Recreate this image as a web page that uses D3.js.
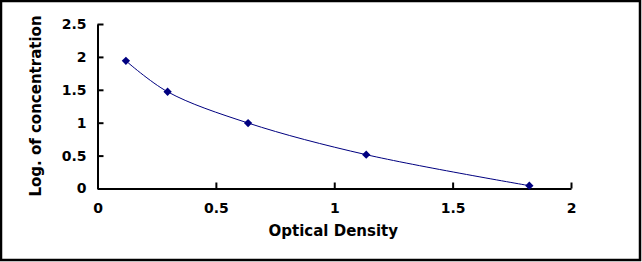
<!DOCTYPE html>
<html>
<head>
<meta charset="utf-8">
<script src="https://cdn.jsdelivr.net/npm/d3@7"></script>
<style>
  body { margin: 0; background: #fff; }
  text { font-family: "DejaVu Sans", Arial, sans-serif; font-weight: bold; fill: #000; }
</style>
</head>
<body>
<div class="chart"></div>
<script>
var svgWidth = 642;
var svgHeight = 262;

// data
var opticalDensity = [0.12, 0.296, 0.636, 1.135, 1.824];
var logConcentration = [1.94, 1.47, 0.995, 0.514, 0.043];
var xTicks = [0, 0.5, 1, 1.5, 2];
var yTicks = [0, 0.5, 1, 1.5, 2, 2.5];

var margin = { top: 24, right: 71, bottom: 73.5, left: 97.5 };
var width = svgWidth - margin.left - margin.right;
var height = svgHeight - margin.top - margin.bottom;

var svg = d3.select(".chart")
  .append("svg")
  .attr("width", svgWidth)
  .attr("height", svgHeight);

// outer frame
svg.append("rect")
  .attr("x", 1)
  .attr("y", 1)
  .attr("width", svgWidth - 3)
  .attr("height", svgHeight - 3)
  .attr("fill", "#fff")
  .attr("stroke", "#000")
  .attr("stroke-width", 2.5);

var chartGroup = svg.append("g")
  .attr("transform", `translate(${margin.left}, ${margin.top})`);

var xScale = d3.scaleLinear().domain([0, 2]).range([0, width]);
var yScale = d3.scaleLinear().domain([0, 2.5]).range([height, 0]);

// axes, ticks pointing inward
var bottomAxis = d3.axisBottom(xScale)
  .tickValues(xTicks)
  .tickSizeInner(-6)
  .tickSizeOuter(0)
  .tickPadding(15)
  .tickFormat(d3.format("~g"));

var leftAxis = d3.axisLeft(yScale)
  .tickValues(yTicks)
  .tickSizeInner(-6)
  .tickSizeOuter(0)
  .tickPadding(11)
  .tickFormat(d3.format("~g"));

var xAxis = chartGroup.append("g")
  .attr("transform", `translate(0, ${height})`)
  .call(bottomAxis);

var yAxis = chartGroup.append("g")
  .call(leftAxis);

[xAxis, yAxis].forEach(function(ax) {
  ax.select(".domain").attr("stroke", "#000").attr("stroke-width", 2);
  ax.selectAll(".tick line").attr("stroke", "#000").attr("stroke-width", 2);
  ax.selectAll(".tick text")
    .attr("font-size", 14)
    .attr("font-family", "'DejaVu Sans', Arial, sans-serif")
    .attr("font-weight", "bold")
    .attr("fill", "#000");
});

var points = opticalDensity.map(function(d, i) {
  return { x: d, y: logConcentration[i] };
});

var line = d3.line()
  .x(d => xScale(d.x))
  .y(d => yScale(d.y))
  .curve(d3.curveCatmullRom.alpha(0.5));

chartGroup.append("path")
  .datum(points)
  .attr("d", line)
  .attr("fill", "none")
  .attr("stroke", "#000080")
  .attr("stroke-width", 1);

chartGroup.selectAll(".pt")
  .data(points)
  .enter()
  .append("path")
  .attr("class", "pt")
  .attr("d", d3.symbol().type(d3.symbolDiamond2).size(44))
  .attr("transform", d => `translate(${xScale(d.x)}, ${yScale(d.y)})`)
  .attr("fill", "#000080");

// axis titles
svg.append("text")
  .attr("x", margin.left + width / 2 - 1)
  .attr("y", 235.5)
  .attr("text-anchor", "middle")
  .attr("font-size", 15)
  .text("Optical Density");

svg.append("text")
  .attr("transform", `translate(40.5, 106) rotate(-90)`)
  .attr("text-anchor", "middle")
  .attr("font-size", 15)
  .text("Log. of concentration");
</script>
</body>
</html>
